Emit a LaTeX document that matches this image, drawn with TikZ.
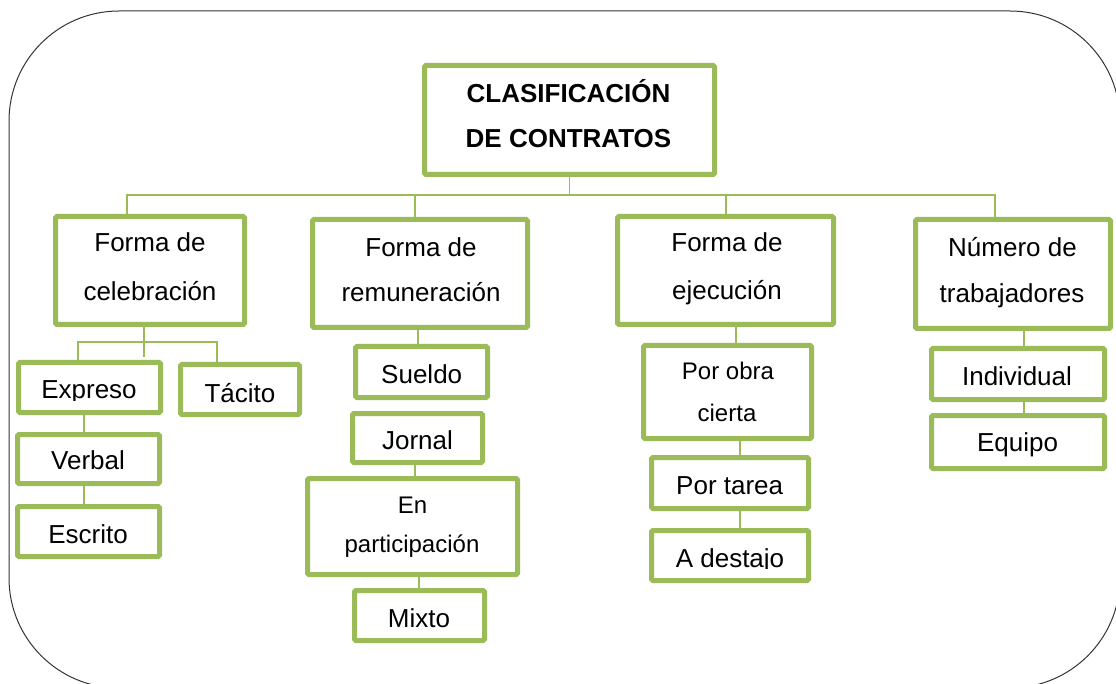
\documentclass[tikz,border=0pt]{standalone}
\usepackage{fontspec}
\setmainfont{Liberation Sans}
\definecolor{olive}{HTML}{9BBB59}
\tikzset{
  gbox/.style={draw=olive, line width=5pt, rectangle, rounded corners=1.5pt, inner sep=0pt},
  conn/.style={draw=olive, line width=1.8pt},
  txt/.style={inner sep=0pt, anchor=base, font=\fontsize{26}{30}\selectfont},
  txts/.style={inner sep=0pt, anchor=base, font=\fontsize{24}{28}\selectfont},
  ttl/.style={inner sep=0pt, anchor=base, font=\fontsize{26}{30}\selectfont\bfseries},
  frame/.style={draw=black!80, line width=1pt, rounded corners=110pt}
}
\begin{document}
\begin{tikzpicture}[x=1pt,y=-1pt]
\useasboundingbox (0,0) rectangle (1116,684);
\draw[frame] (9,11) rectangle (1120,688);

% boxes
\node[gbox, minimum width=290pt, minimum height=109pt] (title) at (569.5,120) {};
\node[gbox, minimum width=189pt, minimum height=108pt] (cel) at (150,270.5) {};
\node[gbox, minimum width=215pt, minimum height=108pt] (rem) at (420,273.5) {};
\node[gbox, minimum width=216pt, minimum height=108pt] (eje) at (725.5,270.5) {};
\node[gbox, minimum width=195pt, minimum height=109pt] (num) at (1013,274) {};
\node[gbox, minimum width=142pt, minimum height=50pt] (exp) at (89.5,387.5) {};
\node[gbox, minimum width=119pt, minimum height=50pt] (tac) at (240,389.5) {};
\node[gbox, minimum width=142pt, minimum height=49pt] (ver) at (88.5,459) {};
\node[gbox, minimum width=142pt, minimum height=50pt] (esc) at (88.5,531.5) {};
\node[gbox, minimum width=132pt, minimum height=51pt] (sue) at (421.5,372) {};
\node[gbox, minimum width=130pt, minimum height=49pt] (jor) at (417.5,438) {};
\node[gbox, minimum width=210pt, minimum height=96pt] (par) at (412.5,526.5) {};
\node[gbox, minimum width=130pt, minimum height=50pt] (mix) at (419.5,615.5) {};
\node[gbox, minimum width=168pt, minimum height=93pt] (obr) at (727.5,392) {};
\node[gbox, minimum width=157pt, minimum height=51pt] (tar) at (730,483) {};
\node[gbox, minimum width=157pt, minimum height=50pt] (des) at (730,555.5) {};
\node[gbox, minimum width=173pt, minimum height=51pt] (ind) at (1018,374) {};
\node[gbox, minimum width=173pt, minimum height=53pt] (equ) at (1018,442) {};

% connectors
\draw[conn] (title.south) -- ++(0,18);
\draw[conn] ([xshift=-23pt]cel.north) -- ++(0,-19) -| ([xshift=-18pt]num.north);
\draw[conn] ([xshift=-5pt]rem.north) -- ++(0,-22);
\draw[conn] ([xshift=0.5pt]eje.north) -- ++(0,-19);

\draw[conn] ([xshift=-6pt]cel.south) -- ++(0,30);
\draw[conn] ([xshift=-11.5pt]exp.north) -- ++(0,-18) -| ([xshift=-23pt]tac.north);
\draw[conn] ([xshift=-5.5pt]exp.south) -- ([xshift=-4.5pt]ver.north);
\draw[conn] ([xshift=-4.5pt]ver.south) -- ([xshift=-4.5pt]esc.north);

\draw[conn] ([xshift=-2pt]rem.south) -- ([xshift=-3.5pt]sue.north);
\draw[conn] ([xshift=-2.5pt]jor.south) -- ([xshift=2.5pt]par.north);
\draw[conn] ([xshift=6.5pt]par.south) -- ([xshift=-0.5pt]mix.north);

\draw[conn] ([xshift=10.5pt]eje.south) -- ([xshift=8.5pt]obr.north);
\draw[conn] ([xshift=12.5pt]obr.south) -- ([xshift=10pt]tar.north);
\draw[conn] ([xshift=10pt]tar.south) -- ([xshift=10pt]des.north);

\draw[conn] ([xshift=11pt]num.south) -- ([xshift=6pt]ind.north);
\draw[conn] ([xshift=6pt]ind.south) -- ([xshift=6pt]equ.north);

% texts
\node[ttl] (title1) at (568.5,103) {CLASIFICACIÓN};
\node[ttl] (title2) at (568.5,148) {DE CONTRATOS};
\node[txt] (cel1) at (150,252) {Forma de};
\node[txt] (cel2) at (150,301) {celebración};
\node[txt] (rem1) at (421,257) {Forma de};
\node[txt] (rem2) at (421,302) {remuneración};
\node[txt] (eje1) at (727,252) {Forma de};
\node[txt] (eje2) at (727,300) {ejecución};
\node[txt] (num1) at (1012.5,257) {Número de};
\node[txt] (num2) at (1012,303) {trabajadores};
\begin{scope}
\clip (0,0) rectangle (320,400);
\node[txt] (expt) at (89,399) {Expreso};
\end{scope}
\node[txt] (tact) at (240,402) {Tácito};
\node[txt] (vert) at (88,469) {Verbal};
\node[txt] (esct) at (88,543) {Escrito};
\node[txt] (suet) at (421.7,384) {Sueldo};
\node[txt] (jort) at (417.5,449) {Jornal};
\node[txts] (par1) at (412.5,513) {En};
\node[txts] (par2) at (412,552) {participación};
\node[txt] (mixt) at (419,627) {Mixto};
\node[txts] (obr1) at (728,379) {Por obra};
\node[txts] (obr2) at (727,421) {cierta};
\node[txt] (tart) at (729.7,494) {Por tarea};
\begin{scope}
\clip (600,500) rectangle (860,568);
\node[txt] (dest) at (730,567) {A destajo};
\end{scope}
\node[txt] (indt) at (1017,385) {Individual};
\node[txt] (equt) at (1017.5,451) {Equipo};
\end{tikzpicture}
\end{document}
